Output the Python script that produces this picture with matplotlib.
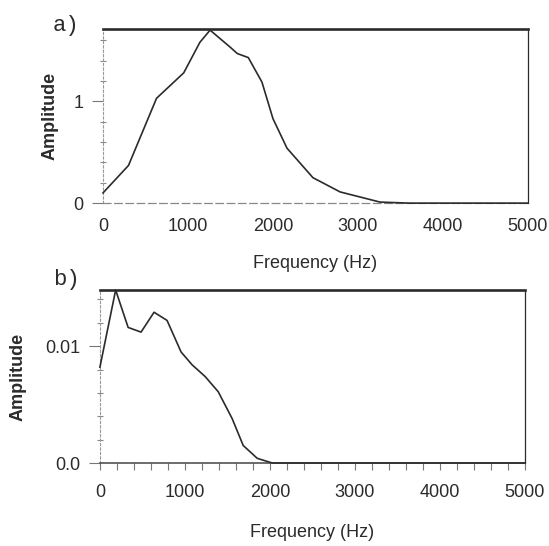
"""
Two-panel amplitude spectrum (scanned figure recreation).
"""
import matplotlib
matplotlib.use("Agg")
import matplotlib.pyplot as plt
from matplotlib.ticker import MultipleLocator

# ---------------------------------------------------------------------------
# Data
# ---------------------------------------------------------------------------
freq_a = [0, 300, 630, 950, 1140, 1260, 1500, 1580, 1710, 1870, 2000,
          2165, 2470, 2790, 3260, 3600, 5000]
amp_a = [0.10, 0.37, 1.03, 1.28, 1.58, 1.70, 1.53, 1.47, 1.43, 1.19, 0.83,
         0.54, 0.25, 0.11, 0.01, 0.0, 0.0]

freq_b = [0, 185, 332, 484, 637, 790, 955, 1085, 1238, 1392, 1556, 1686,
          1851, 2028, 5000]
amp_b = [0.0082, 0.0148, 0.0116, 0.0112, 0.0129, 0.0122, 0.0095, 0.0084,
         0.0074, 0.0061, 0.0038, 0.0015, 0.0004, 0.0, 0.0]

x_ticks = [0, 1000, 2000, 3000, 4000, 5000]
y_ticks_a = [0, 1]
y_labels_a = ["0", "1"]
y_ticks_b = [0.0, 0.01]
y_labels_b = ["0.0", "0.01"]

INK = "#2b2b2b"
SANS = ["Liberation Sans", "DejaVu Sans"]
MONO = ["Liberation Mono", "DejaVu Sans Mono"]

fig = plt.figure(figsize=(5.49, 5.46), dpi=100)
ax_a = fig.add_axes([0.1876, 0.628, 0.774, 0.3187])
ax_b = fig.add_axes([0.182, 0.152, 0.774, 0.3168])


def style_axes(ax, ymax, yticks, ylabels, ytick_minor, show_xticks, label_x):
    ax.set_xlim(0, 5000)
    ax.set_ylim(0, ymax)
    ax.set_xticks(x_ticks)
    ax.set_xticklabels([str(t) for t in x_ticks], family=SANS, fontsize=13,
                       color=INK)
    ax.set_yticks(yticks)
    ax.set_yticklabels(ylabels, family=SANS, fontsize=13, color=INK)
    ax.yaxis.set_minor_locator(MultipleLocator(ytick_minor))
    ax.tick_params(axis="y", which="major", direction="out", length=8,
                   width=0.8, color="#777777", pad=6)
    ax.tick_params(axis="y", which="minor", direction="inout", length=5,
                   width=0.8, color="#888888")
    if show_xticks:
        ax.xaxis.set_minor_locator(MultipleLocator(200))
        ax.tick_params(axis="x", which="both", direction="out", length=5,
                       width=0.8, color="#777777", pad=10)
        labelpad = 17
    else:
        ax.tick_params(axis="x", which="both", length=0, pad=11)
        labelpad = 14

    ax.spines["top"].set_linewidth(1.9)
    ax.spines["top"].set_color(INK)
    ax.spines["right"].set_linewidth(0.9)
    ax.spines["right"].set_color(INK)
    ax.spines["left"].set_linewidth(0.8)
    ax.spines["left"].set_color("#999999")
    ax.spines["left"].set_linestyle((0, (2, 2)))

    ax.set_xlabel("Frequency (Hz)", family=SANS, fontsize=13, color=INK,
                  labelpad=labelpad)
    ax.set_ylabel("Amplitude", family=SANS, fontsize=13, color=INK,
                  fontweight="bold")
    ax.yaxis.set_label_coords(label_x, 0.5)


style_axes(ax_a, 1.71, y_ticks_a, y_labels_a, 0.2, False, -0.104)
ax_a.spines["bottom"].set_linewidth(0.9)
ax_a.spines["bottom"].set_color("#888888")
ax_a.spines["bottom"].set_linestyle((0, (6, 3)))
ax_a.plot(freq_a, amp_a, color=INK, linewidth=1.2, clip_on=False, zorder=3)

style_axes(ax_b, 0.0148, y_ticks_b, y_labels_b, 0.002, True, -0.172)
ax_b.spines["bottom"].set_linewidth(1.1)
ax_b.spines["bottom"].set_color("#444444")
ax_b.plot(freq_b, amp_b, color=INK, linewidth=1.2, clip_on=False, zorder=3)

fig.text(53 / 549, 1 - 25 / 546, "a)", family=MONO, fontsize=16, color=INK,
         ha="left", va="center")
fig.text(53 / 549, 1 - 279 / 546, "b)", family=MONO, fontsize=16, color=INK,
         ha="left", va="center")

fig.savefig("out.png", dpi=100, facecolor="white")
